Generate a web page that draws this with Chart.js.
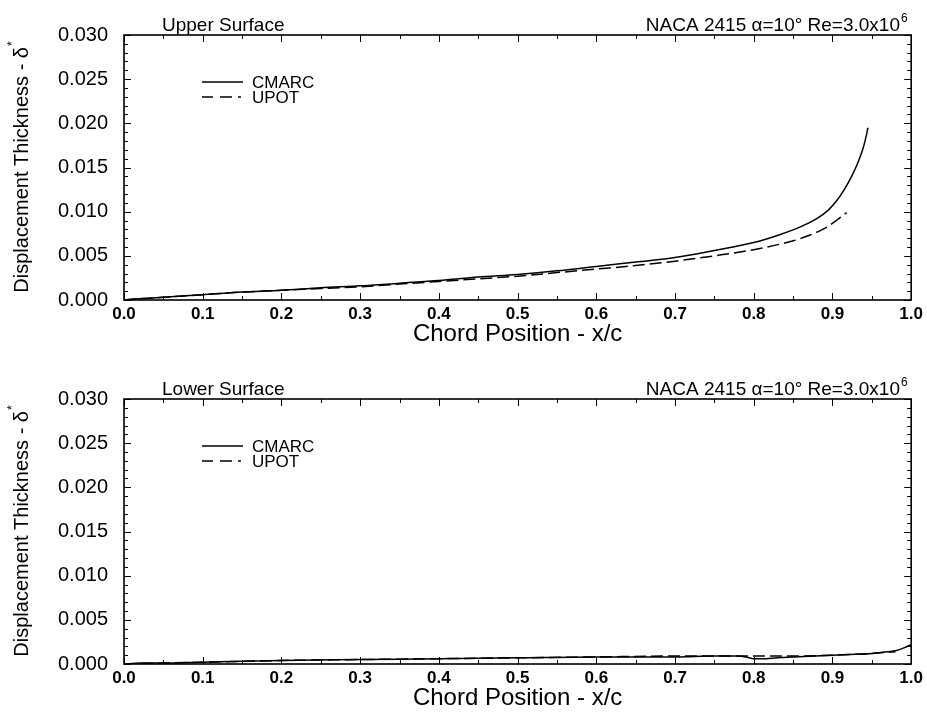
<!DOCTYPE html>
<html><head><meta charset="utf-8">
<script src="https://cdn.jsdelivr.net/npm/chart.js@4.4.1/dist/chart.umd.min.js"></script>
<style>
html,body{margin:0;padding:0;background:#fff;}
.w{position:absolute;left:0;width:927px;}
#w1{top:0;height:357px}
#w2{top:357px;height:358px}
canvas{display:block}
</style>
</head><body>
<div class="w" id="w1"><canvas id="c1" width="927" height="357" style="width:927px;height:357px"></canvas></div>
<div class="w" id="w2"><canvas id="c2" width="927" height="358" style="width:927px;height:358px"></canvas></div>
<script>
// ---- data ----
const xTicks = [0.0,0.1,0.2,0.3,0.4,0.5,0.6,0.7,0.8,0.9,1.0];
const yTicks = [0.000,0.005,0.010,0.015,0.020,0.025,0.030];

const upperCmarcX = [0,0.02,0.05,0.1,0.15,0.2,0.25,0.3,0.35,0.4,0.45,0.5,0.55,0.6,0.65,0.7,0.75,0.8,0.83,0.86,0.88,0.895,0.905,0.915,0.925,0.933,0.939,0.943,0.945];
const upperCmarcY = [0,0.00015,0.0003,0.0006,0.0009,0.0011,0.0014,0.0016,0.0019,0.0022,0.0026,0.0029,0.0033,0.0038,0.0043,0.0048,0.0056,0.0065,0.0073,0.0083,0.0092,0.0102,0.0112,0.0125,0.0141,0.0157,0.0172,0.0186,0.0195];

const upperUpotX = [0,0.02,0.05,0.1,0.15,0.2,0.25,0.3,0.35,0.4,0.45,0.5,0.55,0.6,0.65,0.7,0.75,0.8,0.85,0.87,0.89,0.905,0.918];
const upperUpotY = [0,0.00015,0.0003,0.0006,0.0009,0.0011,0.0013,0.0015,0.0018,0.0021,0.0024,0.0027,0.0031,0.0035,0.0039,0.0044,0.0050,0.0057,0.0067,0.0073,0.0081,0.0090,0.0099];

const lowerCmarcX = [0,0.02,0.05,0.1,0.2,0.3,0.4,0.5,0.6,0.7,0.75,0.78,0.79,0.8,0.81,0.83,0.85,0.9,0.93,0.95,0.97,0.98,0.99,1.0];
const lowerCmarcY = [0,0.0001,0.0001,0.0002,0.0004,0.0005,0.0006,0.0007,0.0008,0.0008,0.0009,0.0009,0.0008,0.0006,0.0006,0.0007,0.0008,0.0010,0.0011,0.0012,0.0014,0.0015,0.0018,0.0022];

const lowerUpotX = [0,0.05,0.1,0.2,0.3,0.4,0.5,0.6,0.7,0.8,0.85,0.9,0.95,0.98];
const lowerUpotY = [0,0.0001,0.0002,0.0004,0.0005,0.0006,0.0007,0.0008,0.0009,0.0009,0.0009,0.0010,0.0012,0.0014];

const seriesNames = ['CMARC','UPOT'];
const FONT = '"Liberation Sans", Arial, Helvetica, sans-serif';

function pts(xs, ys){ return xs.map((x,i)=>({x:x, y:ys[i]})); }

function decor(leftTitle){
  return {
    id:'decor',
    afterDraw(chart){
      const ctx = chart.ctx, a = chart.chartArea, xs = chart.scales.x, ys = chart.scales.y;
      ctx.save();
      ctx.strokeStyle = '#000'; ctx.fillStyle = '#000';
      // inner ticks
      ctx.lineWidth = 1;
      ctx.beginPath();
      for (let i=0;i<=20;i++){
        const v = i*0.05, len = (i%2===0)?7:4;
        const px = Math.round(xs.getPixelForValue(v))+0.5;
        ctx.moveTo(px,a.bottom); ctx.lineTo(px,a.bottom-len);
        ctx.moveTo(px,a.top); ctx.lineTo(px,a.top+len);
      }
      for (let i=0;i<=30;i++){
        const v = i*0.001, len = (i%5===0)?7:4;
        const py = Math.round(ys.getPixelForValue(v))+0.5;
        ctx.moveTo(a.left,py); ctx.lineTo(a.left+len,py);
        ctx.moveTo(a.right,py); ctx.lineTo(a.right-len,py);
      }
      ctx.stroke();
      // frame
      ctx.lineWidth = 1.6;
      ctx.strokeRect(a.left, a.top, a.right-a.left, a.bottom-a.top);

      // titles
      ctx.font = '19px ' + FONT;
      ctx.textBaseline = 'alphabetic';
      ctx.textAlign = 'left';
      ctx.fillText(leftTitle, 162, a.top-4);
      const main = 'NACA 2415 \u03B1=10\u00B0 Re=3.0x10';
      const mw = ctx.measureText(main).width;
      ctx.fillText(main, 900-mw, a.top-4);
      ctx.font = '12px ' + FONT;
      ctx.fillText('6', 901, a.top-13);

      // x axis title
      ctx.font = '24px ' + FONT;
      ctx.textAlign = 'center';
      ctx.textBaseline = 'middle';
      ctx.fillText('Chord Position - x/c', (a.left+a.right)/2, a.bottom+34);

      // y axis title
      ctx.save();
      ctx.translate(22, (a.top+a.bottom)/2);
      ctx.rotate(-Math.PI/2);
      ctx.font = '20px ' + FONT;
      const yt = 'Displacement Thickness - \u03B4';
      const w1 = ctx.measureText(yt).width;
      ctx.font = '12px ' + FONT;
      const w2 = ctx.measureText('*').width;
      const start = -(w1+w2)/2;
      ctx.textAlign = 'left';
      ctx.textBaseline = 'middle';
      ctx.font = '20px ' + FONT;
      ctx.fillText(yt, start, 0);
      ctx.font = '12px ' + FONT;
      ctx.fillText('*', start+w1+1, -9);
      ctx.restore();

      // legend
      const ly1 = a.top+47, ly2 = a.top+62;
      ctx.lineWidth = 1.5;
      ctx.setLineDash([]);
      ctx.beginPath(); ctx.moveTo(202,ly1); ctx.lineTo(243,ly1); ctx.stroke();
      ctx.setLineDash([11,7,12,6,3,100]);
      ctx.beginPath(); ctx.moveTo(202,ly2); ctx.lineTo(243,ly2); ctx.stroke();
      ctx.setLineDash([]);
      ctx.font = '17px ' + FONT;
      ctx.textAlign = 'left';
      ctx.textBaseline = 'middle';
      ctx.fillText(seriesNames[0], 252, ly1+1);
      ctx.fillText(seriesNames[1], 252, ly2+1);
      ctx.restore();
    }
  };
}

function makeChart(id, leftTitle, cx, cy, ux, uy, padTop, xHeight){
  return new Chart(document.getElementById(id), {
    type:'line',
    data:{ datasets:[
      {label:seriesNames[0], data:pts(cx,cy), borderColor:'#000', borderWidth:1.5, pointRadius:0, cubicInterpolationMode:'monotone', fill:false},
      {label:seriesNames[1], data:pts(ux,uy), borderColor:'#000', borderWidth:1.5, borderDash:[12,5], pointRadius:0, cubicInterpolationMode:'monotone', fill:false}
    ]},
    options:{
      responsive:false, animation:false, events:[],
      layout:{padding:{top:padTop, right:15, left:0, bottom:0}},
      plugins:{legend:{display:false}, tooltip:{enabled:false}, title:{display:false}},
      scales:{
        x:{type:'linear', min:0, max:1,
           grid:{display:false, drawTicks:false}, border:{display:false},
           afterBuildTicks(s){ s.ticks = xTicks.map(v=>({value:v})); },
           afterFit(s){ s.height = xHeight; },
           ticks:{color:'#000', padding:4, maxRotation:0, autoSkip:false,
                  font:{family:FONT, size:17, weight:'bold'},
                  callback:(v)=>Number(v).toFixed(1)}},
        y:{type:'linear', min:0, max:0.03,
           grid:{display:false, drawTicks:false}, border:{display:false},
           afterBuildTicks(s){ s.ticks = yTicks.map(v=>({value:v})); },
           afterFit(s){ s.width = 124; },
           ticks:{color:'#000', padding:16, autoSkip:false,
                  font:{family:FONT, size:20},
                  callback:(v)=>Number(v).toFixed(3)}}
      }
    },
    plugins:[decor(leftTitle)]
  });
}

makeChart('c1','Upper Surface', upperCmarcX, upperCmarcY, upperUpotX, upperUpotY, 35, 57);
makeChart('c2','Lower Surface', lowerCmarcX, lowerCmarcY, lowerUpotX, lowerUpotY, 42, 51);
</script>
</body></html>
